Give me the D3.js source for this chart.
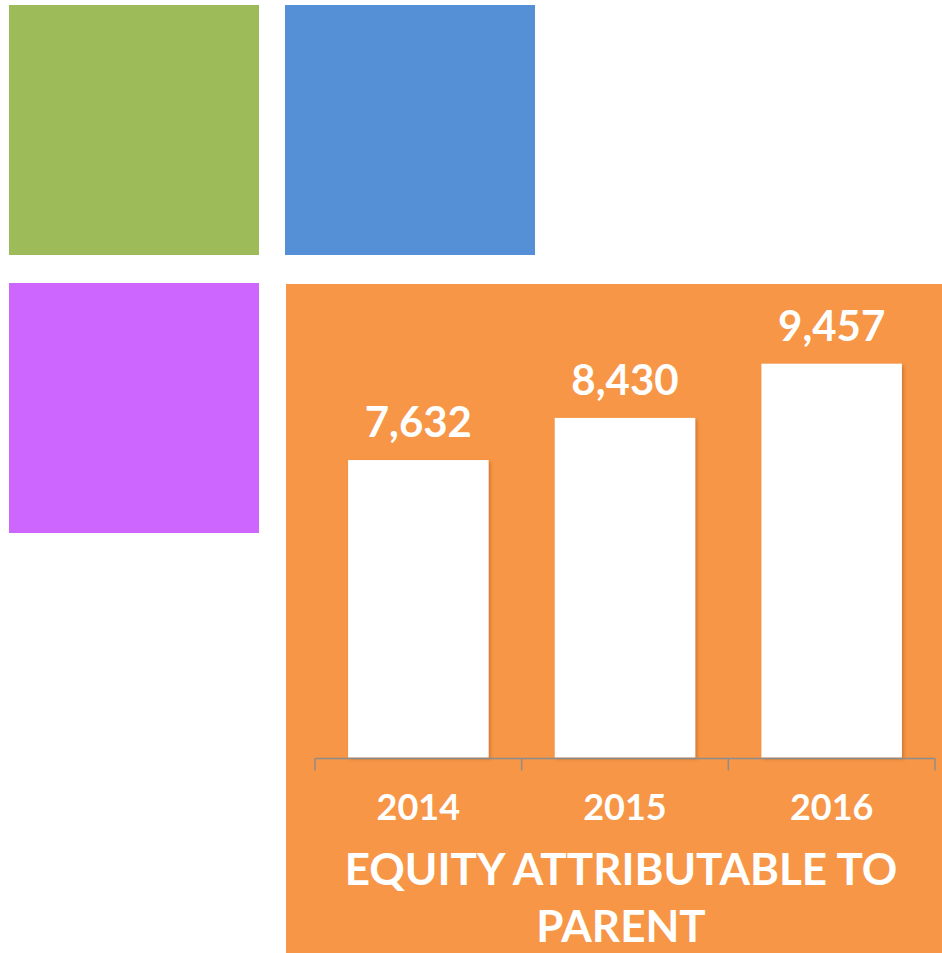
<!DOCTYPE html>
<html>
<head>
<meta charset="utf-8">
<script src="https://cdn.jsdelivr.net/npm/d3@7"></script>
<style>
  body { margin: 0; background: #fff; }
  text { font-family: "Lato", "Open Sans", sans-serif; font-weight: bold; fill: #fff; }
</style>
</head>
<body>
<div id="chart"></div>
<script>
// data
var years = ["2014", "2015", "2016"];
var equity = [7632, 8430, 9457];
var titleLines = ["EQUITY ATTRIBUTABLE TO", "PARENT"];

var width = 942, height = 953;

var svg = d3.select("#chart").append("svg")
    .attr("width", width)
    .attr("height", height);

var defs = svg.append("defs");
var shadow = defs.append("filter").attr("id", "barShadow")
    .attr("x", "-10%").attr("y", "-10%").attr("width", "130%").attr("height", "130%");
shadow.append("feDropShadow")
    .attr("dx", 2).attr("dy", 2).attr("stdDeviation", 1.5)
    .attr("flood-color", "#a85a1c").attr("flood-opacity", 0.5);

// decorative tiles
svg.append("rect").attr("x", 9).attr("y", 5).attr("width", 250).attr("height", 250).attr("fill", "#9dbb59");
svg.append("rect").attr("x", 285).attr("y", 5).attr("width", 250).attr("height", 250).attr("fill", "#558fd6");
svg.append("rect").attr("x", 9).attr("y", 283).attr("width", 250).attr("height", 250).attr("fill", "#cc66ff");

// orange panel
var panel = {x: 286, y: 284, w: 656, h: 669};
svg.append("rect")
    .attr("x", panel.x).attr("y", panel.y)
    .attr("width", panel.w).attr("height", panel.h)
    .attr("fill", "#f79646");

var x = d3.scaleBand()
    .domain(years)
    .range([315, 935])
    .paddingInner(0.32)
    .paddingOuter(0.16);

var y = d3.scaleLinear()
    .domain([2000, 10000])
    .range([757.5, 335]);

var g = svg.append("g");

g.selectAll("rect.bar")
    .data(equity)
    .enter().append("rect")
    .attr("class", "bar")
    .attr("x", function (d, i) { return x(years[i]); })
    .attr("y", function (d) { return y(d); })
    .attr("width", x.bandwidth())
    .attr("height", function (d) { return y.range()[0] - y(d); })
    .attr("fill", "#fff")
    .attr("filter", "url(#barShadow)");

g.selectAll("text.value")
    .data(equity)
    .enter().append("text")
    .attr("class", "value")
    .attr("x", function (d, i) { return x(years[i]) + x.bandwidth() / 2; })
    .attr("y", function (d) { return y(d) - 23; })
    .attr("text-anchor", "middle")
    .style("font-size", "42px")
    .text(function (d) { return d3.format(",")(d); });

// axis: line with category boundary ticks
var axis = d3.axisBottom(x).tickSize(0).tickFormat(function () { return ""; });
var axisG = svg.append("g")
    .attr("transform", "translate(0," + 758.5 + ")")
    .call(axis);
axisG.select(".domain").attr("stroke", "#8c8c8c").attr("stroke-width", 1.5)
    .attr("d", "M315,0H935");
axisG.selectAll(".tick").remove();
var bounds = [x.range()[0]].concat(years.map(function (d) { return x(d) + x.bandwidth() + x.step() * x.paddingInner() / 2; }));
bounds[bounds.length - 1] = x.range()[1];
axisG.selectAll("line.bound")
    .data(bounds)
    .enter().append("line")
    .attr("class", "bound")
    .attr("x1", function (d) { return d; })
    .attr("x2", function (d) { return d; })
    .attr("y1", 0)
    .attr("y2", 12)
    .attr("stroke", "#8c8c8c")
    .attr("stroke-width", 1.5);

g.selectAll("text.year")
    .data(years)
    .enter().append("text")
    .attr("class", "year")
    .attr("x", function (d) { return x(d) + x.bandwidth() / 2; })
    .attr("y", 820)
    .attr("text-anchor", "middle")
    .style("font-size", "36px")
    .text(function (d) { return d; });

g.selectAll("text.title")
    .data(titleLines)
    .enter().append("text")
    .attr("class", "title")
    .attr("x", 621)
    .attr("y", function (d, i) { return 885 + i * 57; })
    .attr("text-anchor", "middle")
    .style("font-size", "44px")
    .text(function (d) { return d; });
</script>
</body>
</html>
